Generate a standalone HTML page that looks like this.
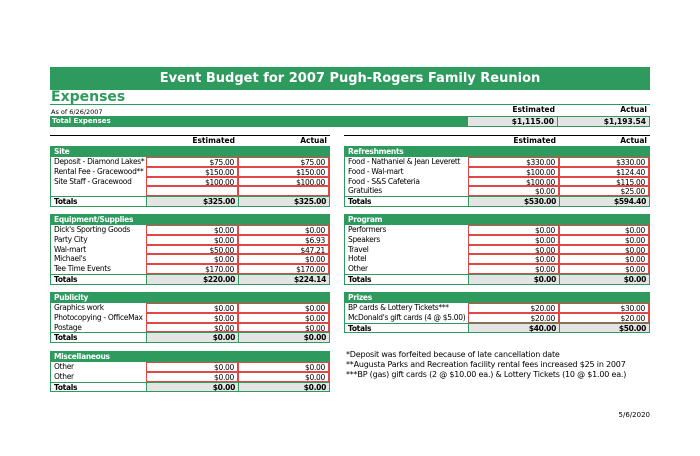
<!DOCTYPE html>
<html><head><meta charset="utf-8"><style>
*{margin:0;padding:0;box-sizing:border-box}
body{width:700px;height:456px;background:#fff;position:relative;font-family:"DejaVu Sans","Liberation Sans",sans-serif;overflow:hidden;color:#000}
.a{position:absolute}
.blk{position:absolute;border:1px solid #2e9a5e;font-size:7.5px;letter-spacing:-0.3px}
.r{display:flex;height:9.75px;line-height:9.5px}
.r div{padding:0 3px;white-space:nowrap;overflow:hidden}
.h{background:#2e9a5e;color:#fff;font-weight:bold;height:10px}
.v{border:1px solid #e04848;border-top-width:0.5px;border-bottom-width:0.5px;text-align:right}
.t{font-weight:bold;border-top:1px solid #2e9a5e}
.t .g{background:#e4e4e4;text-align:right;border-left:1px solid #2e9a5e}
.L .c1{width:95px}.L .c2{width:92px}.L .c3{width:91px}
.R .c1{width:123px}.R .c2{width:91px}.R .c3{width:90px}
.hd{position:absolute;font-size:7.5px;font-weight:bold;display:flex;border-top:1px solid #000;height:10px;line-height:10px}
.hd div{text-align:right;padding-right:3px}
</style></head><body>
<div class="a" style="left:50px;top:67px;width:600px;height:23px;background:#2e9a5e;color:#fff;font-weight:bold;font-size:13px;text-align:center;line-height:23px">Event Budget for 2007 Pugh-Rogers Family Reunion</div>
<div class="a" style="left:51px;top:89px;font-size:14px;font-weight:bold;color:#2e9a5e">Expenses</div>
<div class="a" style="left:50px;top:104px;width:600px;border-top:1.5px solid #2e9a5e"></div>
<div class="a" style="left:51px;top:108px;font-size:6.5px">As of 6/26/2007</div>
<div class="a" style="left:467px;top:105px;width:91px;text-align:right;font-size:7.5px;font-weight:bold;padding-right:3px">Estimated</div>
<div class="a" style="left:558px;top:105px;width:92px;text-align:right;font-size:7.5px;font-weight:bold;padding-right:3px">Actual</div>
<div class="a" style="left:50px;top:116px;width:600px;height:11px;background:#2e9a5e;color:#fff;font-weight:bold;font-size:7px;line-height:10px;padding-left:2px">Total Expenses</div>
<div class="a" style="left:468px;top:117px;width:181px;height:9px;background:#e4e4e4;font-size:7.5px;font-weight:bold;display:flex;line-height:9px"><div style="width:90px;text-align:right;padding-right:3px;border-right:1px solid #2e9a5e">$1,115.00</div><div style="width:91px;text-align:right;padding-right:3px">$1,193.54</div></div>

<div class="hd" style="left:50px;top:135px;width:280px"><div style="width:96px"></div><div style="width:92px">Estimated</div><div style="width:92px">Actual</div></div>
<div class="hd" style="left:344px;top:135px;width:306px"><div style="width:124px"></div><div style="width:91px">Estimated</div><div style="width:91px">Actual</div></div>

<div class="blk L" style="left:50px;top:146px;width:280px">
<div class="r h"><div>Site</div></div>
<div class="r"><div class="c1">Deposit - Diamond Lakes*</div><div class="c2 v">$75.00</div><div class="c3 v">$75.00</div></div>
<div class="r"><div class="c1">Rental Fee - Gracewood**</div><div class="c2 v">$150.00</div><div class="c3 v">$150.00</div></div>
<div class="r"><div class="c1">Site Staff - Gracewood</div><div class="c2 v">$100.00</div><div class="c3 v">$100.00</div></div>
<div class="r"><div class="c1"></div><div class="c2 v"></div><div class="c3 v"></div></div>
<div class="r t"><div class="c1">Totals</div><div class="c2 g">$325.00</div><div class="c3 g">$325.00</div></div>
</div>

<div class="blk R" style="left:344px;top:146px;width:306px">
<div class="r h"><div>Refreshments</div></div>
<div class="r"><div class="c1">Food - Nathaniel &amp; Jean Leverett</div><div class="c2 v">$330.00</div><div class="c3 v">$330.00</div></div>
<div class="r"><div class="c1">Food - Wal-mart</div><div class="c2 v">$100.00</div><div class="c3 v">$124.40</div></div>
<div class="r"><div class="c1">Food - S&amp;S Cafeteria</div><div class="c2 v">$100.00</div><div class="c3 v">$115.00</div></div>
<div class="r"><div class="c1">Gratuities</div><div class="c2 v">$0.00</div><div class="c3 v">$25.00</div></div>
<div class="r t"><div class="c1">Totals</div><div class="c2 g">$530.00</div><div class="c3 g">$594.40</div></div>
</div>

<div class="blk L" style="left:50px;top:214px;width:280px">
<div class="r h"><div>Equipment/Supplies</div></div>
<div class="r"><div class="c1">Dick's Sporting Goods</div><div class="c2 v">$0.00</div><div class="c3 v">$0.00</div></div>
<div class="r"><div class="c1">Party City</div><div class="c2 v">$0.00</div><div class="c3 v">$6.93</div></div>
<div class="r"><div class="c1">Wal-mart</div><div class="c2 v">$50.00</div><div class="c3 v">$47.21</div></div>
<div class="r"><div class="c1">Michael's</div><div class="c2 v">$0.00</div><div class="c3 v">$0.00</div></div>
<div class="r"><div class="c1">Tee Time Events</div><div class="c2 v">$170.00</div><div class="c3 v">$170.00</div></div>
<div class="r t"><div class="c1">Totals</div><div class="c2 g">$220.00</div><div class="c3 g">$224.14</div></div>
</div>

<div class="blk R" style="left:344px;top:214px;width:306px">
<div class="r h"><div>Program</div></div>
<div class="r"><div class="c1">Performers</div><div class="c2 v">$0.00</div><div class="c3 v">$0.00</div></div>
<div class="r"><div class="c1">Speakers</div><div class="c2 v">$0.00</div><div class="c3 v">$0.00</div></div>
<div class="r"><div class="c1">Travel</div><div class="c2 v">$0.00</div><div class="c3 v">$0.00</div></div>
<div class="r"><div class="c1">Hotel</div><div class="c2 v">$0.00</div><div class="c3 v">$0.00</div></div>
<div class="r"><div class="c1">Other</div><div class="c2 v">$0.00</div><div class="c3 v">$0.00</div></div>
<div class="r t"><div class="c1">Totals</div><div class="c2 g">$0.00</div><div class="c3 g">$0.00</div></div>
</div>

<div class="blk L" style="left:50px;top:292px;width:280px">
<div class="r h"><div>Publicity</div></div>
<div class="r"><div class="c1">Graphics work</div><div class="c2 v">$0.00</div><div class="c3 v">$0.00</div></div>
<div class="r"><div class="c1">Photocopying - OfficeMax</div><div class="c2 v">$0.00</div><div class="c3 v">$0.00</div></div>
<div class="r"><div class="c1">Postage</div><div class="c2 v">$0.00</div><div class="c3 v">$0.00</div></div>
<div class="r t"><div class="c1">Totals</div><div class="c2 g">$0.00</div><div class="c3 g">$0.00</div></div>
</div>

<div class="blk R" style="left:344px;top:292px;width:306px">
<div class="r h"><div>Prizes</div></div>
<div class="r"><div class="c1">BP cards &amp; Lottery Tickets***</div><div class="c2 v">$20.00</div><div class="c3 v">$30.00</div></div>
<div class="r"><div class="c1">McDonald's gift cards (4 @ $5.00)</div><div class="c2 v">$20.00</div><div class="c3 v">$20.00</div></div>
<div class="r t"><div class="c1">Totals</div><div class="c2 g">$40.00</div><div class="c3 g">$50.00</div></div>
</div>

<div class="blk L" style="left:50px;top:351px;width:280px">
<div class="r h"><div>Miscellaneous</div></div>
<div class="r"><div class="c1">Other</div><div class="c2 v">$0.00</div><div class="c3 v">$0.00</div></div>
<div class="r"><div class="c1">Other</div><div class="c2 v">$0.00</div><div class="c3 v">$0.00</div></div>
<div class="r t"><div class="c1">Totals</div><div class="c2 g">$0.00</div><div class="c3 g">$0.00</div></div>
</div>

<div class="a" style="left:346px;top:350px;font-size:8px;line-height:10px;letter-spacing:-0.2px">*Deposit was forfeited because of late cancellation date<br>**Augusta Parks and Recreation facility rental fees increased $25 in 2007<br>***BP (gas) gift cards (2 @ $10.00 ea.) &amp; Lottery Tickets (10 @ $1.00 ea.)</div>
<div class="a" style="left:600px;top:411px;width:50px;text-align:right;font-size:7px">5/6/2020</div>
</body></html>
